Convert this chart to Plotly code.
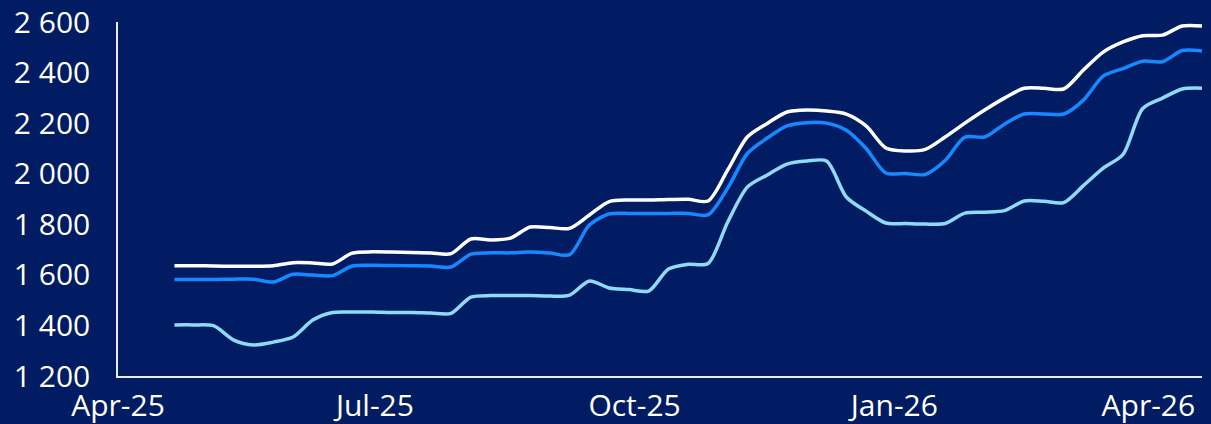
import pandas as pd
import plotly.graph_objects as go

# Weekly observation dates (x categories)
dates = pd.date_range("2025-04-21", periods=53, freq="7D")

# Series values
white_series = [1636, 1636, 1635, 1634, 1634, 1636, 1648, 1647, 1643, 1686,
                1691, 1690, 1688, 1686, 1684, 1742, 1738, 1745, 1789, 1787,
                1784, 1837, 1890, 1896, 1896, 1898, 1899, 1892, 2015, 2146,
                2199, 2244, 2252, 2248, 2236, 2189, 2102, 2090, 2096, 2145,
                2200, 2252, 2299, 2338, 2338, 2335, 2410, 2481, 2521, 2546,
                2548, 2584, 2584]

blue_series = [1582, 1582, 1582, 1583, 1583, 1572, 1602, 1599, 1597, 1635,
               1638, 1637, 1636, 1635, 1631, 1682, 1687, 1687, 1690, 1686,
               1680, 1797, 1841, 1843, 1843, 1843, 1843, 1837, 1943, 2081,
               2141, 2189, 2202, 2200, 2172, 2100, 2003, 2001, 1997, 2052,
               2145, 2145, 2196, 2236, 2236, 2236, 2291, 2386, 2416, 2445,
               2443, 2487, 2485]

light_series = [1402, 1402, 1398, 1342, 1323, 1334, 1354, 1421, 1451, 1453,
                1453, 1451, 1451, 1449, 1448, 1512, 1518, 1518, 1518, 1516,
                1520, 1576, 1548, 1542, 1536, 1623, 1642, 1645, 1809, 1948,
                1995, 2038, 2050, 2050, 1908, 1852, 1805, 1803, 1801, 1803,
                1844, 1848, 1854, 1892, 1891, 1886, 1953, 2022, 2076, 2258,
                2299, 2335, 2338]

y_ticks = [1200, 1400, 1600, 1800, 2000, 2200, 2400, 2600]

BG = "#011C62"
FONT = "Open Sans"

fig = go.Figure()
for vals, col in [(light_series, "#8FDBF7"), (blue_series, "#1589FF"), (white_series, "#FFFFFF")]:
    fig.add_trace(go.Scatter(
        x=dates, y=vals, mode="lines",
        line=dict(color=col, width=3.5, shape="spline", smoothing=0.8),
        showlegend=False, hoverinfo="skip",
    ))

fig.update_layout(
    width=1211, height=424,
    paper_bgcolor=BG, plot_bgcolor=BG,
    margin=dict(l=118, r=9, t=22, b=48, pad=0),
    separators=", ",
    font=dict(family=FONT, color="#FFFFFF", size=30),
    xaxis=dict(
        range=["2025-04-01", "2026-04-20"],
        tick0="2025-04-01", dtick="M3", tickformat="%b-%y",
        showgrid=False, zeroline=False,
        showline=True, linecolor="#E8ECF4", linewidth=1.5,
        ticks="", ticklen=0, automargin=False,
        ticklabelstandoff=2,
        tickfont=dict(family=FONT, size=30, color="#FFFFFF"),
    ),
    yaxis=dict(
        range=[1200, 2600],
        tickvals=y_ticks, tickformat=",d",
        showgrid=False, zeroline=False,
        showline=True, linecolor="#E8ECF4", linewidth=1.5,
        ticks="", ticklen=0, automargin=False,
        ticklabelstandoff=20,
        tickfont=dict(family=FONT, size=30, color="#FFFFFF"),
    ),
)

fig.write_html(
    "out.html",
    config={"displayModeBar": False},
    post_script="document.body.style.margin='0';document.body.style.overflow='hidden';document.body.style.background='" + BG + "';",
)
